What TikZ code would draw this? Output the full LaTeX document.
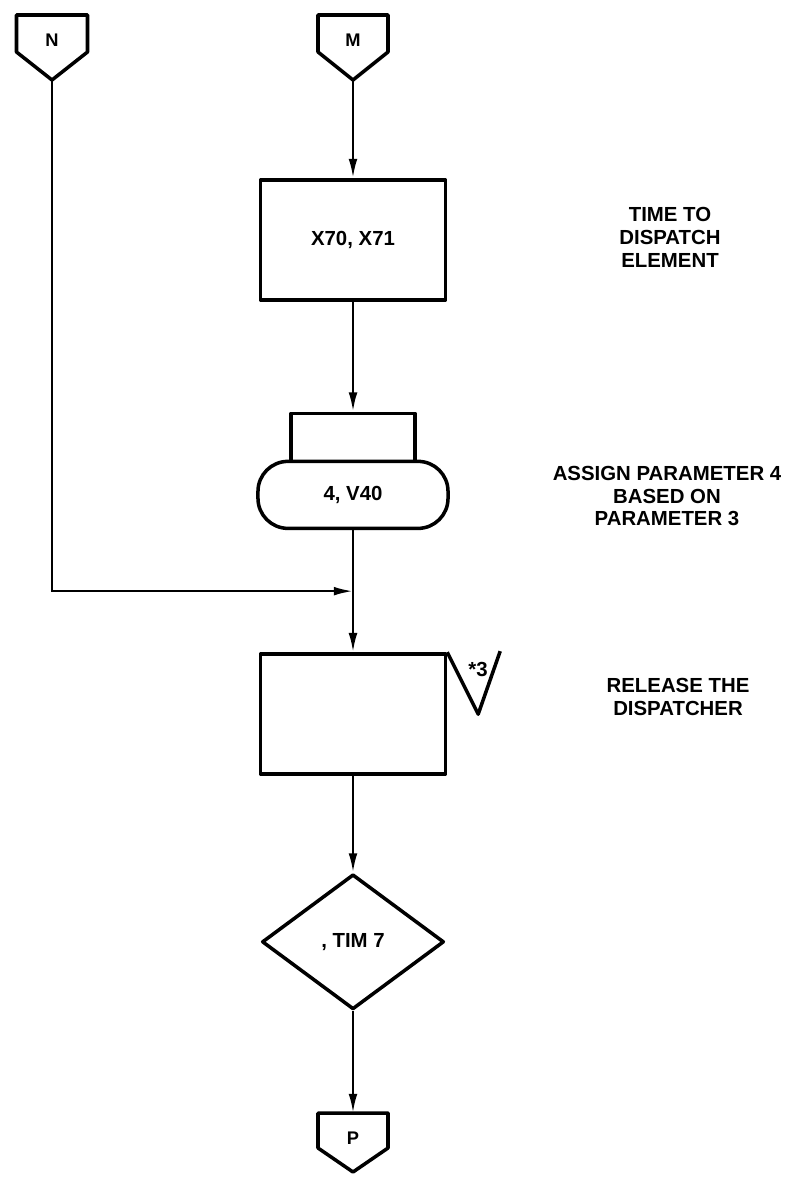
\documentclass[tikz,border=0pt]{standalone}
\usepackage{fontspec}
\setmainfont{Liberation Sans}
\usetikzlibrary{arrows.meta, positioning, shapes.geometric, calc}

\begin{document}
\begin{tikzpicture}[
    x=0.025cm, y=-0.025cm,
    every node/.style={font=\fontsize{14.5}{16.3}\selectfont\bfseries},
    shapeline/.style={line width=2.5pt, line join=round},
    box/.style={rectangle, draw, shapeline, minimum width=4.62cm, minimum height=3cm, inner sep=0pt},
    prepbox/.style={rectangle, draw, shapeline, minimum width=3.1cm, minimum height=1.2cm, inner sep=0pt},
    termbox/.style={rectangle, draw, shapeline, rounded corners=0.75cm, minimum width=4.75cm, minimum height=1.675cm, inner sep=0pt},
    decision/.style={diamond, draw, shapeline, minimum width=4.55cm, minimum height=3.375cm, inner sep=0pt},
    offpage/.style={inner sep=0pt, font=\fontsize{13}{13}\selectfont\bfseries},
    note/.style={align=center},
    flow/.style={-{Latex[length=4.8mm, width=2.2mm]}, line width=1.7pt}
]
\useasboundingbox (0,0) rectangle (790,1181);

% Off-page connectors at the top
\node[offpage] (N) at (52,40) {N};
\draw[shapeline] ($(N)+(-35.5,-25)$) -- ++(71,0) -- ++(0,37) -- ++(-35.5,28) coordinate (Ntip) -- ++(-35.5,-28) -- cycle;
\node[offpage] (M) at (353,40) {M};
\draw[shapeline] ($(M)+(-35,-25)$) -- ++(70,0) -- ++(0,37) -- ++(-35,28) coordinate (Mtip) -- ++(-35,-28) -- cycle;

% Main column
\node[box, below=2.45cm of Mtip] (xbox) {X70, X71};
\node[prepbox, below=2.75cm of xbox] (prep) {};
\node[termbox, below=-2.5pt of prep] (term) {4, V40};
\node[box, below=3.05cm of term] (rel) {};
\node[decision, below=2.42cm of rel] (diam) {, TIM 7};

% Check mark on the release box
\draw[shapeline] (rel.north east) -- ++(31,62) -- ++(22,-63);
\node (star) at (478,669) {*3};

% Off-page connector at the bottom
\node[offpage] (P) at (353,1138) {P};
\draw[shapeline] ($(P)+(-35,-25)$) -- ++(70,0) -- ++(0,35) -- ++(-35,24) -- ++(-35,-24) -- cycle;
\coordinate (Ptop) at ($(P)+(0,-25)$);

% Notes on the right
\node[note] (timenote) at (670,237) {TIME TO\\DISPATCH\\ELEMENT};
\node[note] (assignnote) at (667,496) {ASSIGN PARAMETER 4\\BASED ON\\PARAMETER 3};
\node[note] (relnote) at (678,697) {RELEASE THE\\DISPATCHER};

% Arrows
\coordinate (join) at ($(term.south)!0.5!(rel.north)$);
\draw[flow] (Mtip) -- (xbox);
\draw[flow] (xbox) -- (prep);
\draw[flow] (term) -- (rel);
\draw[flow] (Ntip) |- (join);
\draw[flow] (rel) -- (diam);
\draw[flow] (diam) -- (Ptop);

\end{tikzpicture}
\end{document}
